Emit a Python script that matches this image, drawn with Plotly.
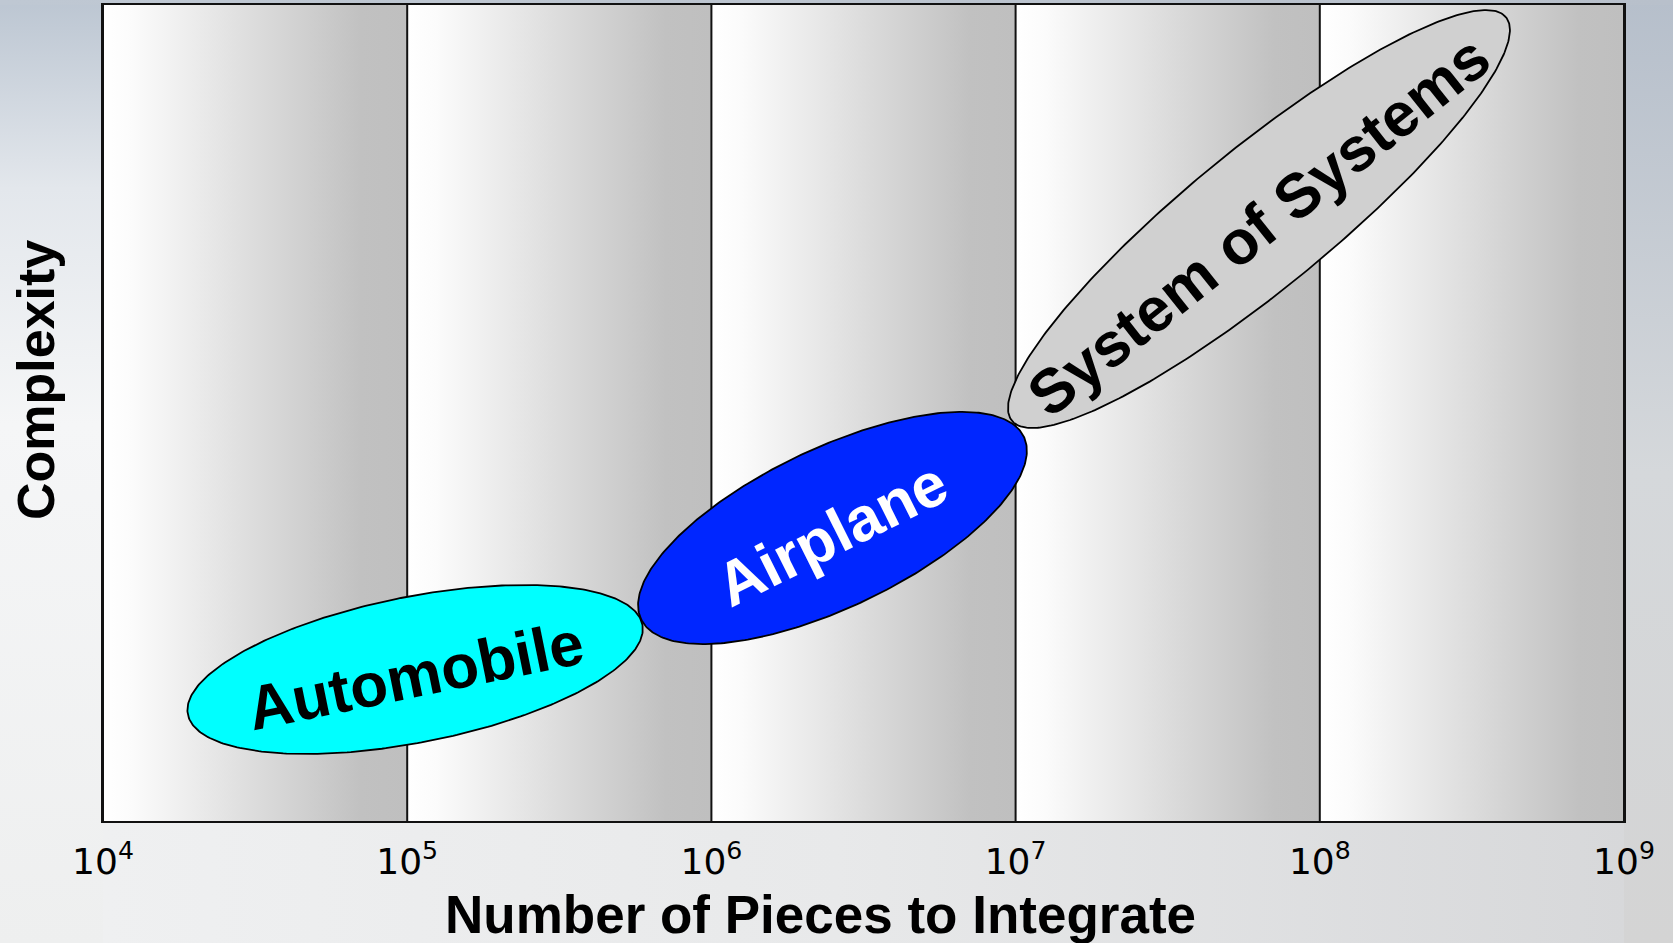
import numpy as np
import plotly.graph_objects as go

# ---------------- data ----------------
decade_exponents = [4, 5, 6, 7, 8, 9]
tick_labels = ["10<sup>4</sup>", "10<sup>5</sup>", "10<sup>6</sup>",
               "10<sup>7</sup>", "10<sup>8</sup>", "10<sup>9</sup>"]
complexity_range = [0, 10]

categories = ["Automobile", "Airplane", "System of Systems"]
# ellipse centre (log10 pieces, complexity) and conjugate half-axis vectors
center_log10_pieces = [5.026, 6.398, 7.800]
center_complexity = [1.857, 3.591, 7.377]
major_dlog = [0.747, 0.629, 0.812]
major_dcomplexity = [0.552, 1.119, 2.473]
minor_dlog = [-0.047, -0.113, -0.146]
minor_dcomplexity = [0.876, 0.879, 0.666]

x_title = "Number of Pieces to Integrate"
y_title = "Complexity"

# ---------------- styles ----------------
fill_colors = ["#00ffff", "#0026ff", "#d0d0d0"]
label_colors = ["black", "white", "black"]
label_angles = [-11.5, -26.5, -38.5]
band_scale = [[0, "#ffffff"], [0.1, "#fbfbfb"], [0.85, "#c1c1c1"], [1, "#bfbfbf"]]

W, H = 1673, 943
L, R, T, B = 103, 1624, 5, 821

fig = go.Figure()

# ---- decorative sky background (full-page subplot) ----
def bg_rect(x0, x1, y0, y1, kind, scale):
    fig.add_trace(go.Scatter(
        x=[x0, x1, x1, x0, x0], y=[y0, y0, y1, y1, y0], fill="toself", mode="none",
        fillgradient=dict(type=kind, colorscale=scale),
        xaxis="x", yaxis="y", hoverinfo="skip", showlegend=False))

bg_rect(0, W, 0, H, "horizontal", [[0, "#f0f1f2"], [0.5, "#e8e9ea"], [1, "#d6d7d9"]])
bg_rect(0, L, 0, H, "vertical", [[0, "#eeefef"], [0.55, "#f5f6f7"], [0.8, "#e3e7ec"], [1, "#bcc6d2"]])
bg_rect(R, W, 0, H, "vertical", [[0, "#d4d4d4"], [0.5, "#d5d8db"], [1, "#b6bfcb"]])
bg_rect(0, W, H - T, H, "horizontal", [[0, "#bfc8d3"], [1, "#b8c0cb"]])

# ---- chart subplot ----
ymin, ymax = complexity_range
for k0, k1 in zip(decade_exponents[:-1], decade_exponents[1:]):
    fig.add_trace(go.Scatter(
        x=[10 ** k0, 10 ** k1, 10 ** k1, 10 ** k0, 10 ** k0],
        y=[ymin, ymin, ymax, ymax, ymin], fill="toself", mode="none",
        fillgradient=dict(type="horizontal", colorscale=band_scale),
        xaxis="x2", yaxis="y2", hoverinfo="skip", showlegend=False))

for k in decade_exponents:
    fig.add_trace(go.Scatter(
        x=[10 ** k, 10 ** k], y=[ymin, ymax], mode="lines",
        line=dict(color="#111111", width=2),
        xaxis="x2", yaxis="y2", hoverinfo="skip", showlegend=False))

t = np.linspace(0, 2 * np.pi, 361)
for i, name in enumerate(categories):
    u = center_log10_pieces[i] + major_dlog[i] * np.cos(t) + minor_dlog[i] * np.sin(t)
    v = center_complexity[i] + major_dcomplexity[i] * np.cos(t) + minor_dcomplexity[i] * np.sin(t)
    fig.add_trace(go.Scatter(
        x=10 ** u, y=v, fill="toself", fillcolor=fill_colors[i], mode="lines",
        line=dict(color="black", width=1.8), name=name,
        xaxis="x2", yaxis="y2", hoverinfo="skip", showlegend=False))

annotations = []
for i, name in enumerate(categories):
    annotations.append(dict(
        text=f"<b>{name}</b>", x=center_log10_pieces[i], y=center_complexity[i],
        xref="x2", yref="y2", showarrow=False, textangle=label_angles[i],
        xanchor="center", yanchor="middle", yshift=-6,
        font=dict(family="Liberation Sans, Arial, sans-serif", size=62, color=label_colors[i])))

annotations.append(dict(
    text=f"<b>{x_title}</b>", x=820 / W, y=1 - 914 / H, xref="paper", yref="paper",
    showarrow=False, xanchor="center", yanchor="middle",
    font=dict(family="Liberation Sans, Arial, sans-serif", size=53, color="black")))
annotations.append(dict(
    text=f"<b>{y_title}</b>", x=36 / W, y=1 - 380 / H, xref="paper", yref="paper",
    showarrow=False, xanchor="center", yanchor="middle", textangle=-90,
    font=dict(family="Liberation Sans, Arial, sans-serif", size=52, color="black")))

fig.update_layout(
    width=W, height=H, margin=dict(l=0, r=0, t=0, b=0, autoexpand=False),
    paper_bgcolor="#e4e5e6", plot_bgcolor="rgba(0,0,0,0)",
    showlegend=False, hovermode=False,
    xaxis=dict(domain=[0, 1], range=[0, W], visible=False, fixedrange=True),
    yaxis=dict(domain=[0, 1], range=[0, H], visible=False, fixedrange=True),
    xaxis2=dict(domain=[L / W, R / W], anchor="y2", type="log",
                range=[decade_exponents[0], decade_exponents[-1]],
                tickvals=[10 ** k for k in decade_exponents], ticktext=tick_labels,
                ticks="", showgrid=False, zeroline=False, automargin=False,
                ticklabelstandoff=8,
                showline=True, mirror=True, linecolor="#111111", linewidth=2,
                layer="above traces",
                tickfont=dict(family="DejaVu Sans, sans-serif", size=36, color="black")),
    yaxis2=dict(domain=[1 - B / H, 1 - T / H], anchor="x2", range=complexity_range,
                showticklabels=False, ticks="", showgrid=False, zeroline=False,
                automargin=False,
                showline=True, mirror=True, linecolor="#111111", linewidth=2,
                layer="above traces"),
    annotations=annotations,
)

fig.write_html("out.html", config={"displayModeBar": False},
               post_script="document.body.style.margin='0';")
